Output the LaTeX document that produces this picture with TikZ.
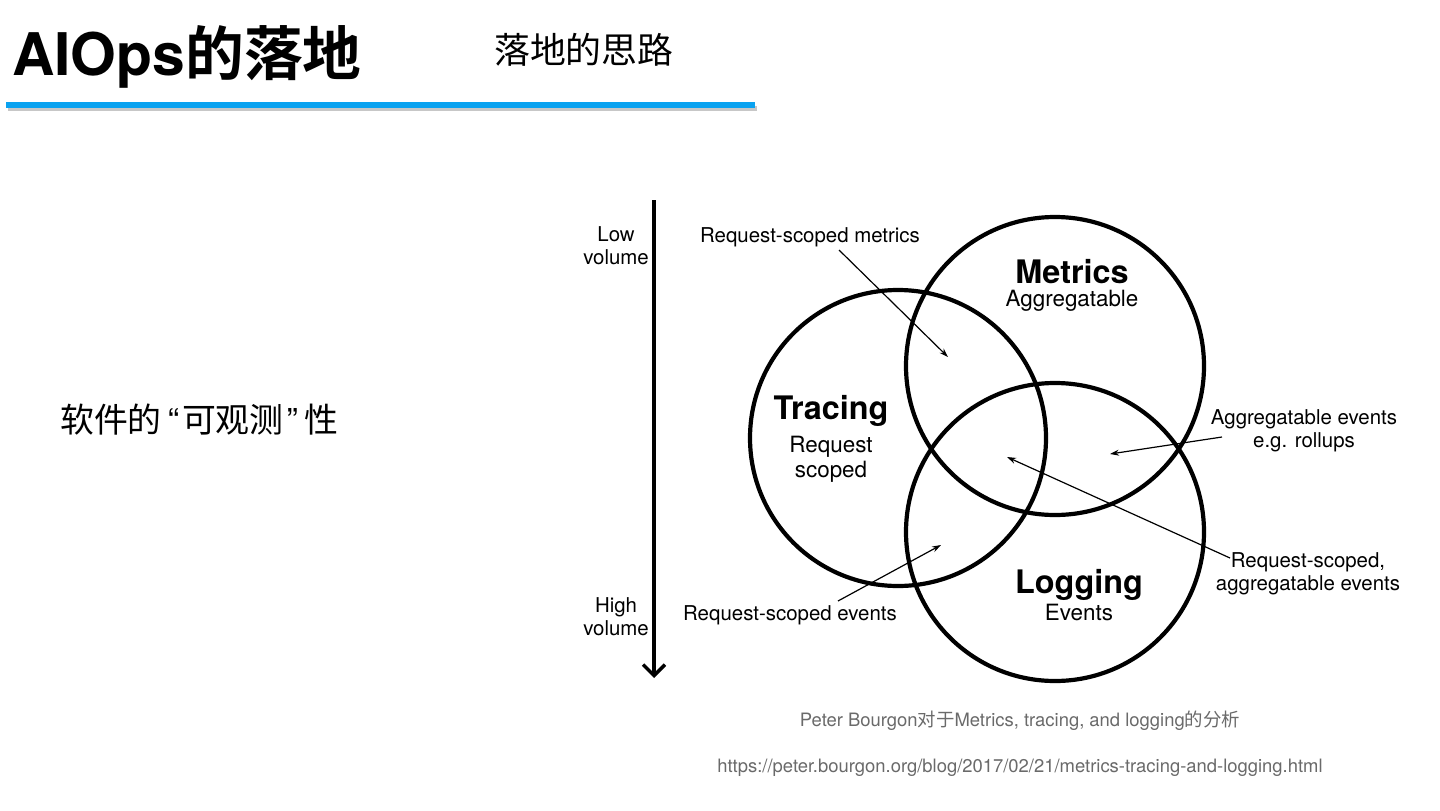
\documentclass[tikz,border=0pt]{standalone}
\usepackage{fontspec}
\setmainfont{TeX Gyre Heros}
\newfontfamily\cjk{Noto Sans CJK SC}[BoldFont={Noto Sans CJK SC Bold}]
\usetikzlibrary{arrows.meta}
\definecolor{barblue}{HTML}{0AA2F0}
\definecolor{capgrey}{HTML}{6A6A6A}

\begin{document}
\begin{tikzpicture}[x=1bp,y=-1bp,
    ring/.style={line width=4.2bp},
    pointer/.style={line width=1.2bp,-{Stealth[length=9bp,width=6bp]}},
    lbl/.style={font=\fontsize{20.5}{23}\selectfont,align=center,inner sep=0pt},
    head/.style={font=\fontsize{32.5}{34}\selectfont\bfseries,inner sep=0pt},
    sub/.style={font=\fontsize{22.5}{25}\selectfont,align=center,inner sep=0pt},
    captext/.style={font=\fontsize{18.5}{20}\selectfont,text=capgrey,inner sep=0pt}]
    \useasboundingbox (0,0) rectangle (1440,810);
    \fill[white] (0,0) rectangle (1440,810);

    % title bar
    \node[anchor=base west,inner sep=0pt,font=\fontsize{59}{66}\selectfont\bfseries] (title) at (12,75) {AIOps{\cjk 的落地}};
    \node[anchor=west,inner sep=0pt,font=\cjk\fontsize{36}{40}\selectfont] (subtitle) at (494,50) {落地的思路};
    \fill[black!22] (8,106) rectangle (757,111);
    \fill[barblue] (6,102) rectangle (755,108);

    \node[anchor=west,inner sep=0pt,font=\cjk\fontsize{34}{36}\selectfont] (topic) at (60,420)
        {软件的\hspace{6bp}{\rmfamily“}\hspace{3bp}可观测\hspace{3bp}{\rmfamily”}\hspace{6bp}性};

    % volume axis
    \coordinate (V1) at (654,200);
    \coordinate (V2) at (654,678);
    \draw[line width=3.5bp,-{Straight Barb[length=11bp,width=22bp,line width=3.5bp]}] (V1) -- (V2);
    \node[lbl,anchor=east] (low) at (649,246) {Low\\volume};
    \node[lbl,anchor=east] (high) at (649,617) {High\\volume};

    % the three circles
    \coordinate (T) at (898,438);
    \coordinate (M) at (1055,366);
    \coordinate (L) at (1055,532);
    \draw[ring] (T) circle[radius=148];
    \draw[ring] (M) circle[radius=149];
    \draw[ring] (L) circle[radius=149];

    \node[head] (tracing) at (831,411) {Tracing};
    \node[sub] (tracingsub) at (831,459) {Request\\scoped};
    \node[head] (metrics) at (1072,272) {Metrics};
    \node[sub] (metricssub) at (1072,301) {Aggregatable};
    \node[head] (logging) at (1079,585) {Logging};
    \node[sub] (loggingsub) at (1079,612) {Events};

    % overlap labels
    \node[lbl] (rsm) at (810,237) {Request-scoped metrics};
    \node[lbl] (agg) at (1304,431) {Aggregatable events\\e.g. rollups};
    \node[lbl] (rsa) at (1308,574) {Request-scoped,\\aggregatable events};
    \node[lbl] (rse) at (790,615) {Request-scoped events};

    \coordinate (P1a) at (839,250);
    \coordinate (P1b) at (948,357);
    \coordinate (P2a) at (1222,437);
    \coordinate (P2b) at (1110,454);
    \coordinate (P3a) at (1230,558);
    \coordinate (P3b) at (1007,457);
    \coordinate (P4a) at (838,601);
    \coordinate (P4b) at (941,545);
    \draw[pointer] (P1a) -- (P1b);
    \draw[pointer] (P2a) -- (P2b);
    \draw[pointer] (P3a) -- (P3b);
    \draw[pointer] (P4a) -- (P4b);

    % source
    \node[captext] (source) at (1020,721) {Peter Bourgon{\cjk 对于}Metrics, tracing, and logging{\cjk 的分析}};
    \node[captext] (url) at (1020,768) {https://peter.bourgon.org/blog/2017/02/21/metrics-tracing-and-logging.html};
\end{tikzpicture}
\end{document}
